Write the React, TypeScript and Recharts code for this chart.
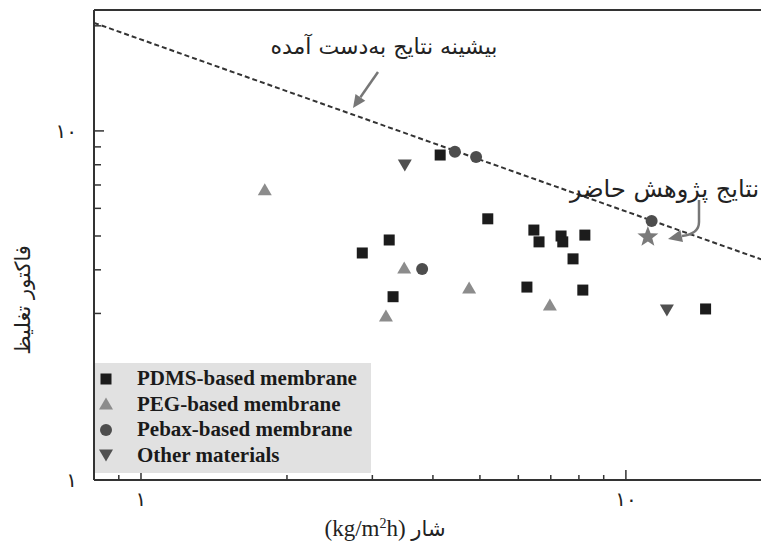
import React from 'react';
import { ScatterChart, Scatter, XAxis, YAxis, ReferenceLine, Legend } from 'recharts';

// flux (kg/m2h) and enrichment factor
const pdmsFlux = [2.86, 3.25, 3.31, 4.14, 5.19, 6.25, 6.46, 6.62, 7.35, 7.41, 7.78, 8.23, 8.15, 14.6];
const pdmsFactor = [4.47, 4.87, 3.35, 8.53, 5.6, 3.57, 5.2, 4.81, 5.0, 4.81, 4.3, 5.03, 3.5, 3.09];
const pegFlux = [1.8, 3.2, 3.49, 4.75, 6.97];
const pegFactor = [6.78, 2.95, 4.05, 3.55, 3.17];
const pebaxFlux = [3.8, 4.44, 4.91, 11.3];
const pebaxFactor = [4.02, 8.71, 8.42, 5.52];
const otherFlux = [3.5, 12.15];
const otherFactor = [7.99, 3.07];
const presentFlux = [11.1];
const presentFactor = [4.97];
const boundFlux = [0.8, 20.3];
const boundFactor = [20.4, 4.15];

const xTicks = [0.9, 1, 2, 3, 4, 5, 6, 7, 8, 9, 10, 20];
const yTicks = [1, 2, 3, 4, 5, 6, 7, 8, 9, 10, 20];
const tickLabels: Record<number, string> = { 1: '۱', 10: '۱۰' };

const zip = (xs: number[], ys: number[]) => xs.map((x, i) => ({ flux: x, factor: ys[i] }));

const faFont = '"DejaVu Sans", sans-serif';
const enFont = '"Liberation Serif", "Times New Roman", serif';
const axisColor = '#333';

type Kind = 'square' | 'up' | 'circle' | 'down' | 'star';

const colors: Record<Kind, string> = {
  square: '#1c1c1c',
  up: '#8c8c8c',
  circle: '#4d4d4d',
  down: '#505050',
  star: '#7a7a7a',
};

function marker(kind: Kind, cx: number, cy: number) {
  const c = colors[kind];
  if (kind === 'square') return <rect x={cx - 5.5} y={cy - 5.5} width={11} height={11} fill={c} />;
  if (kind === 'circle') return <circle cx={cx} cy={cy} r={6} fill={c} />;
  if (kind === 'up')
    return <polygon points={`${cx - 7},${cy + 5.5} ${cx + 7},${cy + 5.5} ${cx},${cy - 6.5}`} fill={c} />;
  if (kind === 'down')
    return <polygon points={`${cx - 7},${cy - 5.5} ${cx + 7},${cy - 5.5} ${cx},${cy + 6.5}`} fill={c} />;
  const pts: string[] = [];
  for (let i = 0; i < 10; i++) {
    const r = i % 2 === 0 ? 11 : 4.6;
    const a = -Math.PI / 2 + (i * Math.PI) / 5;
    pts.push(`${cx + r * Math.cos(a)},${cy + r * Math.sin(a)}`);
  }
  return <polygon points={pts.join(' ')} fill={c} />;
}

const legendOrder = ['PDMS-based membrane', 'PEG-based membrane', 'Pebax-based membrane', 'Other materials'];
const legendKinds: Record<string, Kind> = {
  'PDMS-based membrane': 'square',
  'PEG-based membrane': 'up',
  'Pebax-based membrane': 'circle',
  'Other materials': 'down',
};

const LegendBox = (props: any) => {
  const names: string[] = (props.payload || []).map((p: any) => p.value);
  const items = legendOrder.filter((n) => names.includes(n));
  return (
    <div style={{ background: '#e1e1e1', width: 276, height: 110, boxSizing: 'border-box', paddingTop: 3 }}>
      {items.map((name) => (
        <div key={name} style={{ display: 'flex', alignItems: 'center', height: 25.5 }}>
          <svg width={22} height={20}>
            {marker(legendKinds[name], 11, 10)}
          </svg>
          <span
            style={{
              marginLeft: 20,
              fontFamily: enFont,
              fontWeight: 'bold',
              fontSize: 21,
              color: '#1a1a1a',
              lineHeight: '25px',
            }}
          >
            {name}
          </span>
        </div>
      ))}
    </div>
  );
};

const XTick = (props: any) => {
  const { x, y, payload } = props;
  const label = tickLabels[payload.value];
  return (
    <g>
      <line x1={x} x2={x} y1={y} y2={y - (label ? 10 : 5)} stroke={axisColor} strokeWidth={1.5} />
      {label && (
        <text x={x} y={y + 26} textAnchor="middle" fontFamily={faFont} fontSize={20} fill="#222">
          {label}
        </text>
      )}
    </g>
  );
};

const YTick = (props: any) => {
  const { x, y, payload } = props;
  const label = tickLabels[payload.value];
  return (
    <g>
      <line x1={x} x2={x + (label ? 10 : 7)} y1={y} y2={y} stroke={axisColor} strokeWidth={1.5} />
      {label && (
        <text x={x - 17} y={y} dy="0.35em" textAnchor="end" fontFamily={faFont} fontSize={20} fill="#222">
          {label}
        </text>
      )}
    </g>
  );
};

const App = () => {
  return (
    <div style={{ position: 'absolute', left: 0, top: 0, width: 761, height: 545, overflow: 'hidden', background: '#fff' }}>
      <ScatterChart width={790} height={545} margin={{ top: 10, right: 15, bottom: 25, left: 34 }}>
        <XAxis
          type="number"
          dataKey="flux"
          scale="log"
          domain={[0.8, 20.3]}
          allowDataOverflow
          ticks={xTicks}
          interval={0}
          height={40}
          tickSize={0}
          tickMargin={0}
          tickLine={false}
          tick={<XTick />}
          axisLine={{ stroke: axisColor, strokeWidth: 2 }}
        />
        <YAxis
          type="number"
          dataKey="factor"
          scale="log"
          domain={[1, 22.2]}
          allowDataOverflow
          ticks={yTicks}
          interval={0}
          width={60}
          tickSize={0}
          tickMargin={0}
          tickLine={false}
          tick={<YTick />}
          axisLine={{ stroke: axisColor, strokeWidth: 2 }}
        />
        <ReferenceLine y={22.2} stroke={axisColor} strokeWidth={2} />
        <Scatter
          name="upper bound"
          data={zip(boundFlux, boundFactor)}
          line={{ stroke: '#333', strokeWidth: 2, strokeDasharray: '5 3' }}
          shape={() => <g />}
          legendType="none"
          isAnimationActive={false}
        />
        <Scatter name="PDMS-based membrane" data={zip(pdmsFlux, pdmsFactor)} fill={colors.square}
          shape={(p: any) => marker('square', p.cx, p.cy)} isAnimationActive={false} />
        <Scatter name="PEG-based membrane" data={zip(pegFlux, pegFactor)} fill={colors.up}
          shape={(p: any) => marker('up', p.cx, p.cy)} isAnimationActive={false} />
        <Scatter name="Pebax-based membrane" data={zip(pebaxFlux, pebaxFactor)} fill={colors.circle}
          shape={(p: any) => marker('circle', p.cx, p.cy)} isAnimationActive={false} />
        <Scatter name="Other materials" data={zip(otherFlux, otherFactor)} fill={colors.down}
          shape={(p: any) => marker('down', p.cx, p.cy)} isAnimationActive={false} />
        <Scatter name="present work" data={zip(presentFlux, presentFactor)} fill={colors.star}
          shape={(p: any) => marker('star', p.cx, p.cy)} legendType="none" isAnimationActive={false} />
        <Legend
          layout="vertical"
          align="center"
          verticalAlign="middle"
          content={<LegendBox />}
          wrapperStyle={{ left: 95, top: 363, width: 276, height: 110 }}
        />
      </ScatterChart>

      {/* annotations and axis titles */}
      <svg width={761} height={545} style={{ position: 'absolute', left: 0, top: 0, pointerEvents: 'none' }}>
        <text x={384} y={54} textAnchor="middle" fontFamily={faFont} fontSize={22} fill="#222" direction="rtl">
          بیشینه نتایج به‌دست آمده
        </text>
        <line x1={378} y1={72} x2={360.4} y2={97.3} stroke="#777" strokeWidth={2.5} />
        <polygon points="353,108 365.3,100.7 355.5,93.9" fill="#777" />

        <text x={570} y={197} textAnchor="end" fontFamily={faFont} fontSize={24} fill="#222" direction="rtl">
          نتایج پژوهش حاضر
        </text>
        <path d="M 699 200 L 699 222 Q 699 234 682 236" fill="none" stroke="#777" strokeWidth={2.5} />
        <polygon points="668,239 683,241.9 680.4,230.1" fill="#777" />

        <text transform="translate(30 300) rotate(-90)" textAnchor="middle" fontFamily={faFont} fontSize={21} fill="#222" direction="rtl">
          فاکتور تغلیظ
        </text>

        <text x={385} y={536} textAnchor="middle" fontFamily={enFont} fontSize={23} fill="#222">
          <tspan>(kg/m</tspan>
          <tspan fontSize={14} dy={-8}>2</tspan>
          <tspan dy={8}>h) </tspan>
          <tspan fontFamily={faFont} fontSize={21}>شار</tspan>
        </text>
      </svg>
    </div>
  );
};

export default App;
